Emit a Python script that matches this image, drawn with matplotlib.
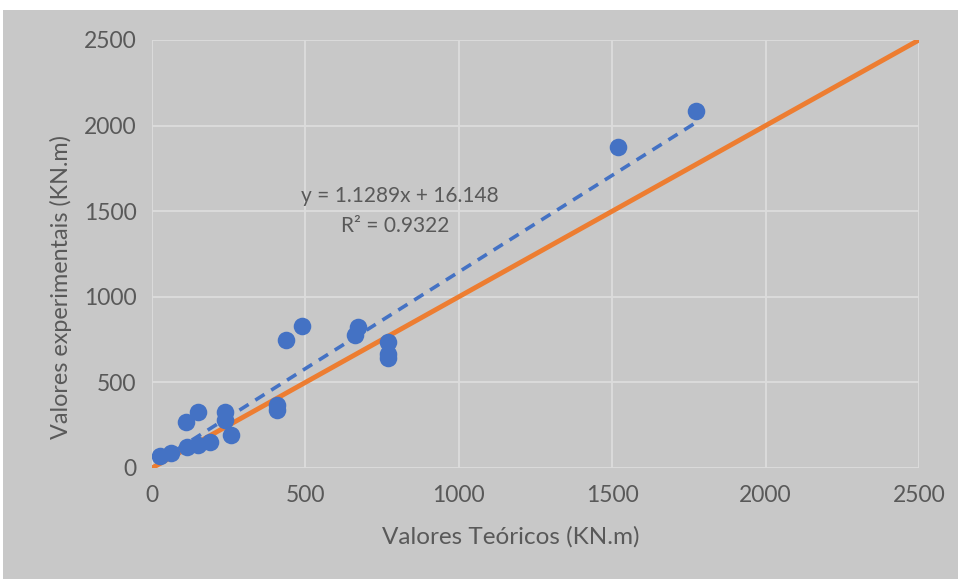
import matplotlib.pyplot as plt
from matplotlib.patches import Rectangle

# theoretical vs experimental values (KN.m)
teoricos = [26, 62, 111, 150, 114, 150, 189, 238, 238, 257,
            407, 407, 437, 489, 671, 662, 769, 769, 769, 1519, 1773]
experimentais = [70, 88, 269, 327, 123, 134, 152, 327, 280, 193,
                 368, 339, 748, 829, 824, 777, 736, 665, 640, 1875, 2085]

# linear trendline reported on the chart
slope = 1.1289
intercept = 16.148
r2 = 0.9322

ticks = [0, 500, 1000, 1500, 2000, 2500]

blue = '#4472C4'
orange = '#ED7D31'
txt = '#595959'
plt.rcParams['font.family'] = ['Lato', 'DejaVu Sans']

fig = plt.figure(figsize=(9.58, 5.79), dpi=100)
fig.patch.set_facecolor('white')
fig.patches.append(Rectangle((3 / 958, 0), 1, 1 - 10 / 579, transform=fig.transFigure,
                             facecolor='#c8c8c8', edgecolor='none', zorder=-10))

ax = fig.add_axes([152 / 958, 1 - 468 / 579, 767 / 958, 428 / 579])
ax.set_facecolor('#c8c8c8')

ax.set_xlim(0, 2500)
ax.set_ylim(0, 2500)
ax.set_xticks(ticks)
ax.set_yticks(ticks)
ax.grid(True, color='#dcdcdc', linewidth=1.3)
ax.set_axisbelow(True)
for s in ax.spines.values():
    s.set_visible(False)
ax.tick_params(length=0, labelsize=16.5, labelcolor=txt)
ax.tick_params(axis='x', pad=12)
ax.tick_params(axis='y', pad=11)

# y = x reference line
ax.plot([0, 2500], [0, 2500], color=orange, linewidth=3.5, zorder=2)

ax.scatter(teoricos, experimentais, s=160, color=blue, zorder=3, linewidths=0)

xmin, xmax = min(teoricos), max(teoricos)
ax.plot([xmin, xmax], [slope * xmin + intercept, slope * xmax + intercept],
        color=blue, linewidth=2.6, linestyle=(0, (3, 2.2)), zorder=4)

ax.text(400 / 958, 1 - 196 / 579, 'y = %.4fx + %.3f' % (slope, intercept),
        transform=fig.transFigure, ha='center', va='center', fontsize=15, color=txt)
ax.text(395 / 958, 1 - 226 / 579, 'R² = %.4f' % r2,
        transform=fig.transFigure, ha='center', va='center', fontsize=15, color=txt)

ax.set_xlabel('Valores Teóricos (KN.m)', fontsize=17.5, color=txt)
ax.set_ylabel('Valores experimentais (KN.m)', fontsize=16.8, color=txt)
ax.xaxis.set_label_coords((511 - 152) / 767, (468 - 526) / 428)
ax.yaxis.set_label_coords((72 - 152) / 767, (468 - 287) / 428)

fig.savefig('out.png', dpi=100, facecolor=fig.get_facecolor())
